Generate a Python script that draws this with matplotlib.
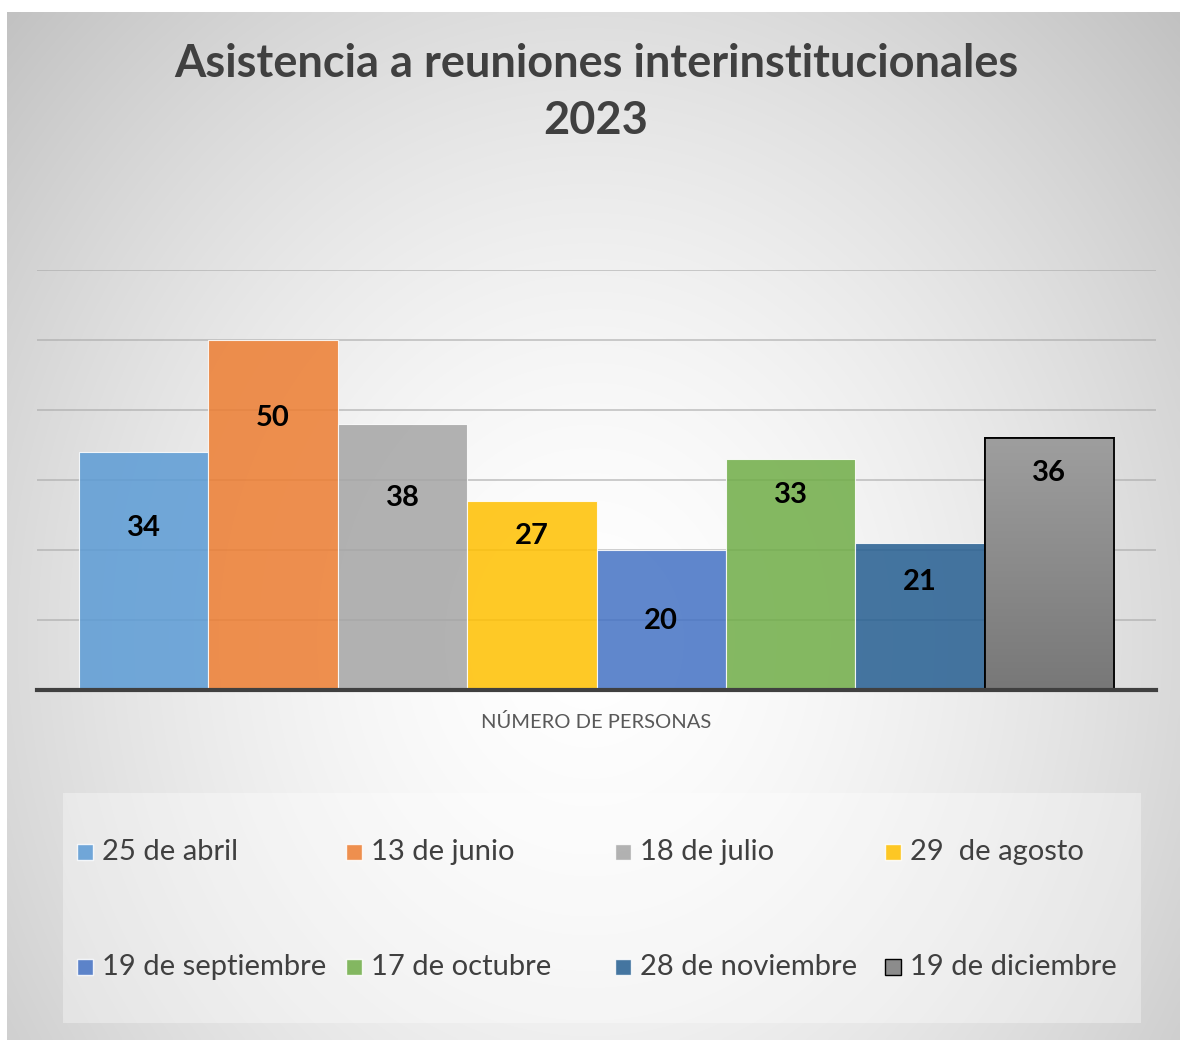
import matplotlib.pyplot as plt
import numpy as np
from matplotlib.patches import Rectangle

fechas = ['25 de abril', '13 de junio', '18 de julio', '29  de agosto',
          '19 de septiembre', '17 de octubre', '28 de noviembre', '19 de diciembre']
personas = [34, 50, 38, 27, 20, 33, 21, 36]
colores = ['#5B9BD5', '#ED7D31', '#A5A5A5', '#FFC000',
           '#4472C4', '#70AD47', '#255E91', '#8C8C8C']

W, H = 1180, 1044
fig = plt.figure(figsize=(W / 100, H / 100), dpi=100)
fig.patch.set_facecolor('white')
font = ['Lato', 'DejaVu Sans']
plt.rcParams['font.family'] = font


def fx(px):
    return px / W


def fy(py):
    return 1 - py / H


# fondo con degradado radial
bg = fig.add_axes([fx(7), fy(1040), fx(1173), (1040 - 12) / H])
bg.set_axis_off()
gx, gy = np.meshgrid(np.linspace(7, 1180, 400), np.linspace(12, 1040, 400))
r = np.hypot((gx - 590) / 1.0, (gy - 640) / 1.15)
g = 1 - 0.25 * np.clip(r / 820, 0, 1.2) ** 1.6
bg.imshow(np.dstack([g, g, g]), extent=[0, 1, 0, 1], aspect='auto',
          interpolation='bicubic')
bg.set_xlim(0, 1)
bg.set_ylim(0, 1)

ax = fig.add_axes([fx(37), fy(690), fx(1156 - 37), (690 - 270) / H])
ax.patch.set_alpha(0)
x = np.arange(len(personas))
bars = ax.bar(x, personas, width=1.0, color=colores, alpha=0.85,
              edgecolor='white', linewidth=0.8, zorder=3)

# última barra: degradado gris con borde negro
last = bars[-1]
last.set_alpha(1)
last.set_edgecolor('black')
last.set_linewidth(1.3)
grad = np.linspace(0.62, 0.47, 100)[:, None] * np.ones((1, 2))
im = ax.imshow(np.dstack([grad, grad, grad]), extent=[6.5, 7.5, 0, personas[-1]],
               aspect='auto', zorder=3.5, origin='upper')
im.set_clip_path(last)
ax.bar(x[-1], personas[-1], width=1.0, color='none', edgecolor='black',
       linewidth=1.3, zorder=4)

ax.set_xlim(-0.825, 7.825)
ax.set_ylim(0, 60)
ax.set_yticks(np.arange(10, 61, 10))
ax.yaxis.grid(True, color='#a6a6a6', linewidth=1.3, alpha=0.6, zorder=3.6)
ax.tick_params(left=False, bottom=False, labelleft=False, labelbottom=False)
for s in ['top', 'right', 'left']:
    ax.spines[s].set_visible(False)
ax.spines['bottom'].set_color('#404040')
ax.spines['bottom'].set_linewidth(3)
ax.spines['bottom'].set_zorder(5)

drop = [10.8, 11.1, 10.5, 5.0, 10.1, 5.1, 5.5, 5.0]
for xi, v, d in zip(x, personas, drop):
    ax.text(xi, v - d, str(v), ha='center', va='center', fontsize=21,
            fontweight='bold', color='black', zorder=6)

fig.text(fx(596), fy(64), 'Asistencia a reuniones interinstitucionales',
         ha='center', va='center', fontsize=32.5, fontweight='bold', color='#404040')
fig.text(fx(596), fy(121), '2023', ha='center', va='center', fontsize=32.5,
         fontweight='bold', color='#404040')

fig.text(fx(596), fy(722), 'NÚMERO DE PERSONAS', ha='center', va='center',
         fontsize=14.5, color='#595959')

# leyenda
fig.patches.append(Rectangle((fx(63), fy(1023)), fx(1141 - 63), (1023 - 793) / H,
                             transform=fig.transFigure, facecolor='white',
                             alpha=0.35, edgecolor='none', zorder=1))
cols = [77, 346, 615, 885]
rows = [852, 967]
for i, (lab, c) in enumerate(zip(fechas, colores)):
    px = cols[i % 4]
    py = rows[i // 4]
    ec = 'black' if i == 7 else 'white'
    fig.patches.append(Rectangle((fx(px), fy(py + 8)), fx(16), 16 / H,
                                 transform=fig.transFigure, facecolor=c,
                                 alpha=1 if i == 7 else 0.85, edgecolor=ec,
                                 linewidth=1, zorder=2))
    fig.text(fx(px + 25), fy(py), lab, ha='left', va='center', fontsize=21,
             color='#404040')

fig.savefig('out.png', dpi=100)
